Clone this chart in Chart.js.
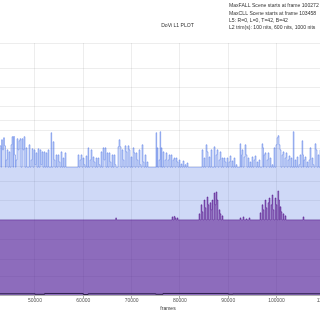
<!DOCTYPE html>
<html><head><meta charset="utf-8">
<script src="https://cdn.jsdelivr.net/npm/chart.js@4/dist/chart.umd.min.js"></script>
<style>
html,body{margin:0;padding:0;overflow:hidden;background:#fff;width:320px;height:320px}
#c{position:absolute;left:0;top:0}
</style></head>
<body><canvas id="c" width="336" height="320"></canvas>
<script>
const titleText = 'DoVi L1 PLOT';
const infoLines = [
  'MaxFALL Scene starts at frame 100272',
  'MaxCLL Scene starts at frame 103458',
  'L5: R=0, L=0, T=42, B=42',
  'L2 trim(s): 100 nits, 600 nits, 1000 nits'
];
const xTitle = 'frames';
const xTicks = [50000, 60000, 70000, 80000, 90000, 100000, 110000];
// PQ code values of the horizontal grid lines
const yGrid = [1.0, 0.899, 0.824, 0.748, 0.692, 0.651, 0.581, 0.510, 0.450, 0.375, 0.298, 0.219, 0.139, 0.072];

// Maximum (scene start frame -> PQ)
const maxFrames = [42760,42967,43071,43278,43485,43692,43899,44002,44209,44416,44623,44830,45037,45244,45451,45555,45762,45969,46072,46279,46486,46693,46900,47107,47314,47521,47728,47935,48142,48349,
48763,48970,49177,49384,49591,49798,50005,50212,50419,50626,50833,51040,51247,51454,51661,51868,52075,52282,52489,52696,52903,53317,53462,53731,53938,54145,54352,54559,54766,54973,55180,55387,55594,55801,56008,56215,56422,
58906,59113,59320,59527,59734,59941,60148,60355,60562,60769,60976,61142,61390,61597,61804,62011,62218,62425,62632,62839,63046,63253,63460,63667,63874,64081,64288,64495,64702,64909,65116,65323,65530,65737,65944,66151,66358,66565,66772,67186,67393,67600,67807,68014,68221,68428,68635,68842,69049,69256,69463,69670,69877,70084,70291,70498,70705,70912,71119,71326,71533,71740,71947,72154,72361,72568,72775,72982,73189,73396,
75052,75197,75321,75466,75673,75880,76025,76149,76294,76501,76708,76915,77122,77329,77536,77743,77950,78157,78364,78571,78778,78985,79192,79399,79606,79813,80020,80227,80434,80641,80848,81055,81262,81469,81676,
84574,84781,84988,85195,85402,85609,85816,86023,86230,86437,86644,87058,87265,87472,87679,87886,88093,88300,88507,88714,88921,89128,89335,89542,89749,89956,90163,90370,90577,90784,90991,91198,91405,91612,91819,92440,92606,92751,92854,93061,93268,93475,93682,93889,94096,94303,94510,94717,94924,95131,95338,95545,95752,95959,96166,96373,96580,96994,97160,97305,97408,97615,97822,98029,98236,98443,98650,98857,99064,99271,99478,99685,99892,100099,100306,100513,100720,100927,101134,101341,101548,101755,101962,102169,102376,102583,102790,102997,103204,103458,103618,103825,104032,104239,104446,104653,104860,105067,105274,105440,105585,105688,105895,106102,106309,106516,106723,106930,107137,107344,107551,107758,107965,108172,108379,108586,108793,109000,109207,109414,109621,110035,110242,112400];
const maxPq = [0.592,0.507,0.616,0.576,0.624,0.592,0.507,0.536,0.576,0.507,0.568,0.507,0.596,0.628,0.507,0.629,0.556,0.507,0.536,0.620,0.576,0.612,0.620,0.507,0.620,0.576,0.628,0.507,0.584,0.507,
0.596,0.507,0.536,0.580,0.507,0.576,0.517,0.564,0.507,0.580,0.507,0.576,0.517,0.568,0.507,0.568,0.507,0.564,0.507,0.576,0.507,0.644,0.507,0.608,0.536,0.507,0.556,0.507,0.556,0.528,0.507,0.568,0.507,0.544,0.507,0.564,0.507,
0.556,0.507,0.536,0.556,0.507,0.544,0.517,0.507,0.552,0.507,0.584,0.507,0.536,0.576,0.507,0.548,0.528,0.507,0.544,0.507,0.544,0.517,0.507,0.568,0.507,0.584,0.536,0.584,0.507,0.564,0.507,0.564,0.528,0.507,0.556,0.507,0.556,0.517,0.507,0.588,0.616,0.588,0.507,0.576,0.536,0.507,0.592,0.568,0.507,0.592,0.576,0.507,0.548,0.507,0.584,0.564,0.507,0.564,0.536,0.507,0.576,0.517,0.507,0.596,0.528,0.507,0.556,0.507,0.528,0.507,
0.644,0.507,0.584,0.507,0.536,0.648,0.507,0.584,0.507,0.568,0.507,0.536,0.564,0.507,0.536,0.556,0.507,0.556,0.507,0.536,0.544,0.507,0.544,0.528,0.507,0.536,0.507,0.520,0.507,0.532,0.507,0.517,0.507,0.524,0.507,
0.576,0.507,0.544,0.507,0.596,0.568,0.507,0.548,0.507,0.576,0.507,0.588,0.507,0.556,0.576,0.507,0.536,0.568,0.507,0.544,0.507,0.544,0.528,0.507,0.544,0.507,0.528,0.552,0.507,0.532,0.507,0.544,0.507,0.517,0.507,0.600,0.507,0.556,0.576,0.507,0.548,0.596,0.556,0.507,0.544,0.507,0.528,0.507,0.548,0.507,0.536,0.552,0.507,0.528,0.507,0.536,0.507,0.600,0.584,0.507,0.556,0.564,0.507,0.536,0.564,0.507,0.544,0.507,0.517,0.507,0.584,0.507,0.596,0.624,0.632,0.596,0.576,0.507,0.556,0.568,0.507,0.544,0.564,0.507,0.536,0.552,0.507,0.544,0.507,0.648,0.507,0.536,0.507,0.548,0.507,0.517,0.556,0.507,0.612,0.556,0.507,0.536,0.548,0.507,0.528,0.507,0.536,0.584,0.507,0.544,0.517,0.507,0.600,0.576,0.507,0.556,0.507,0.576,0.507,0.544,0.507,0.536,0.507,0.507];

// Average (scene start frame -> PQ)
const avgFrames = [42760,66710,66876,78364,78571,78778,78985,79192,79399,79606,
83953,84160,84367,84574,84781,84988,85195,85402,85609,85816,86023,86230,86437,86644,86851,87058,87265,87472,87679,87886,88093,88300,88507,88714,88921,
92440,92647,93061,93268,93682,93889,94303,94510,
96580,96787,96994,97201,97408,97615,97822,98029,98236,98443,98650,98857,99064,99271,99478,99685,99892,100099,100272,100451,100617,100720,100927,101134,101341,101548,101755,101962,
105481,105688,112400];
const avgPq = [0.298,0.306,0.298,0.310,0.298,0.312,0.306,0.298,0.306,0.298,
0.322,0.298,0.358,0.330,0.298,0.377,0.346,0.298,0.389,0.358,0.298,0.366,0.338,0.377,0.298,0.405,0.358,0.409,0.377,0.298,0.338,0.322,0.298,0.314,0.298,
0.306,0.298,0.310,0.298,0.302,0.298,0.306,0.298,
0.326,0.298,0.358,0.338,0.298,0.377,0.346,0.298,0.366,0.385,0.298,0.358,0.397,0.338,0.298,0.385,0.358,0.298,0.413,0.377,0.298,0.350,0.330,0.298,0.322,0.298,0.314,0.298,
0.310,0.298,0.298];

// Minimum
const minFrames = [42760,50000,52000,60000,61000,75000,76500,90000,91000,112400];
const minPq = [0.005,0.003,0.006,0.002,0.005,0.003,0.006,0.004,0.005,0.005];

const pts = (f, v) => f.map((x, i) => ({x, y: v[i]}));

const textPlugin = {
  id: 'texts',
  afterDraw(chart) {
    const ctx = chart.ctx;
    ctx.save();
    ctx.fillStyle = '#333';
    ctx.font = '5.1px "Liberation Sans", Arial, sans-serif';
    ctx.textBaseline = 'middle';
    ctx.textAlign = 'center';
    ctx.fillText(titleText, 177.5, 25.5);
    ctx.textAlign = 'left';
    infoLines.forEach((t, i) => ctx.fillText(t, 229, 6 + i * 7.1));
    ctx.restore();
  }
};

new Chart(document.getElementById('c'), {
  type: 'line',
  data: {
    datasets: [
      {label: 'Minimum', data: pts(minFrames, minPq), stepped: true, borderColor: 'rgba(30,20,60,0.85)', borderWidth: 1, pointRadius: 0, fill: false, order: 0},
      {label: 'Average (MaxFALL)', data: pts(avgFrames, avgPq), stepped: true, borderColor: 'rgba(75,0,130,0.6)', backgroundColor: 'rgba(75,0,130,0.5)', borderWidth: 0.7, pointRadius: 0, fill: 'origin', order: 1},
      {label: 'Maximum (MaxCLL)', data: pts(maxFrames, maxPq), stepped: true, borderColor: 'rgba(65,105,225,0.7)', backgroundColor: 'rgba(65,105,225,0.25)', borderWidth: 0.6, pointRadius: 0, fill: 'origin', order: 2}
    ]
  },
  options: {
    responsive: false,
    animation: false,
    devicePixelRatio: 1,
    layout: {padding: {top: 43, left: 0, right: 0, bottom: 0}},
    plugins: {legend: {display: false}, tooltip: {enabled: false}, title: {display: false}},
    scales: {
      x: {
        type: 'linear', min: 42760, max: 112312,
        afterBuildTicks: s => { s.ticks = xTicks.map(v => ({value: v})); },
        afterFit: s => { s.height = 25; s.paddingLeft = 0; s.paddingRight = 0; },
        grid: {color: 'rgba(0,0,0,0.07)', tickLength: 3, tickColor: 'rgba(0,0,0,0.35)'},
        border: {color: 'rgba(0,0,0,0.3)'},
        ticks: {autoSkip: false, maxRotation: 0, padding: 0, color: '#555', font: {size: 5, family: '"Liberation Sans", Arial, sans-serif'}, callback: v => String(v)},
        title: {display: true, text: xTitle, color: '#333', padding: {top: 0, bottom: 8}, font: {size: 5, family: '"Liberation Sans", Arial, sans-serif'}}
      },
      y: {
        type: 'linear', min: 0, max: 1,
        afterBuildTicks: s => { s.ticks = yGrid.map(v => ({value: v})); },
        afterFit: s => { s.width = 0; s.paddingTop = 0; s.paddingBottom = 0; },
        grid: {color: 'rgba(0,0,0,0.07)', drawTicks: false},
        border: {display: false},
        ticks: {display: false}
      }
    }
  },
  plugins: [textPlugin]
});
</script>
</body></html>
